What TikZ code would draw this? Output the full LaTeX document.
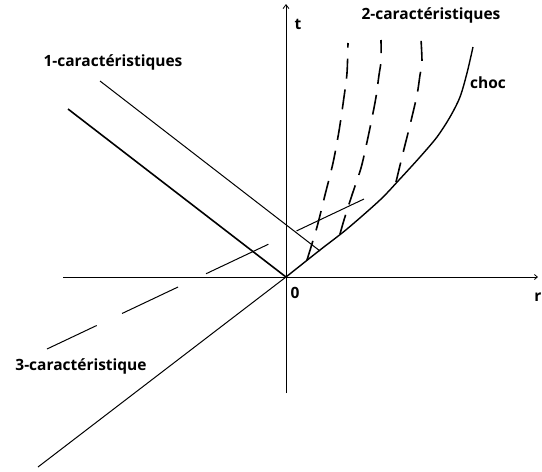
\documentclass[tikz,border=0pt]{standalone}
\usepackage{fontspec}
\setmainfont{Open Sans}
\usetikzlibrary{arrows.meta}
\begin{document}
\begin{tikzpicture}[x=1pt,y=-1pt,
  lbl/.style={font=\bfseries\fontsize{15.5}{17}\selectfont, inner sep=0pt},
  axis/.style={line width=0.8pt},
  thin/.style={line width=1pt},
  thick1/.style={line width=1.6pt},
  dash2/.style={line width=1.6pt, dash pattern=on 20pt off 11pt},
  shock/.style={line width=1.4pt}]
\useasboundingbox (0,0) rectangle (542,472);
\fill[white] (0,0) rectangle (542,472);
% axes
\coordinate (O) at (286,277);
\coordinate (tb) at (286,393);
\coordinate (tt) at (286,4);
\coordinate (rl) at (63,277);
\coordinate (rr) at (538,277);
\draw[axis,-{Straight Barb[length=4pt,width=6pt]}] (tb) -- (tt);
\draw[axis,-{Straight Barb[length=3pt,width=5pt]}] (rl) -- (rr);
\node[lbl] (t) at (298,24) {t};
\node[lbl] (zero) at (295,293) {0};
\node[lbl,anchor=east] (r) at (541.5,297) {r};
% 1-characteristics
\coordinate (a1) at (68,109);
\draw[thick1] (a1) -- (O);
\coordinate (b1) at (100,81);
\coordinate (b2) at (320,251);
\draw[thin] (b1) -- (b2);
% 3-characteristics
\coordinate (c1) at (38,467);
\draw[thin] (c1) -- (O);
\coordinate (d1) at (47,349);
\coordinate (d2) at (364,199);
\draw[thin, dash pattern=on 55pt off 28pt on 62pt off 31pt on 69pt off 31pt on 80pt] (d1) -- (d2);
% shock
\draw[shock] plot[smooth] coordinates {(286,277) (320,250) (347,229) (380,200) (399,180) (420,157) (437,137) (450,117) (460,97) (467,73) (473,47)};
% 2-characteristics
\draw[dash2] plot[smooth] coordinates {(307,260) (317,227) (325,195) (333,163) (339,131) (344,97) (347,73) (348,43)};
\draw[dash2] plot[smooth] coordinates {(340,234) (344,220) (352,195) (361,168) (367,142) (372,118) (376,97) (379,75) (381,61) (381,40)};
\draw[dash2] plot[smooth] coordinates {(396,182) (403,153) (410,125) (417,95) (420,75) (422,63) (421,39)};
% labels
\node[lbl] (l2) at (431,15) {2-caractéristiques};
\node[lbl] (lc) at (488,83) {choc};
\node[lbl] (l1) at (113,62) {1-caractéristiques};
\node[lbl] (l3) at (81,366) {3-caractéristique};
\end{tikzpicture}
\end{document}
